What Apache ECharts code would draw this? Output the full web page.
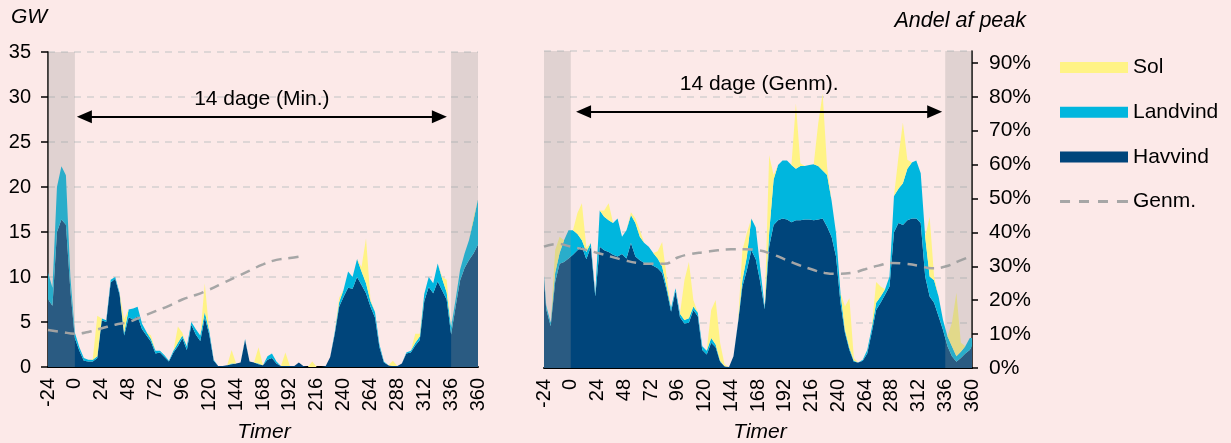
<!DOCTYPE html>
<html><head><meta charset="utf-8">
<script src="https://cdn.jsdelivr.net/npm/echarts@6/dist/echarts.min.js"></script>
<style>html,body{margin:0;padding:0;background:#FCE9E8}#c{width:1231px;height:443px}</style>
</head><body><div id="c"></div>
<script>
// ---------- DATA ----------
// Left panel (14 dage, Min.) – samples every 4 h, GW
const hoursL = [
  -24,-20,-16,-12,-8,-4,0,4,8,12,
  16,20,24,28,32,36,40,44,48,52,
  56,60,64,68,72,76,80,84,88,92,
  96,100,104,108,112,116,120,124,128,132,
  136,140,144,148,152,156,160,164,168,172,
  176,180,184,188,192,196,200,204,208,212,
  216,220,224,228,232,236,240,244,248,252,
  256,260,264,268,272,276,280,284,288,292,
  296,300,304,308,312,316,320,324,328,332,
  336,340,344,348,352,356,360];
const havL = [
  7.5,6.8,15.0,16.4,15.8,8.5,3.2,1.8,0.7,0.6,
  0.6,1.0,5.2,5.0,9.4,9.8,8.0,3.5,5.5,5.3,
  5.6,4.2,3.5,2.8,1.5,1.6,1.1,0.6,1.6,2.3,
  3.2,1.9,4.7,3.6,2.9,5.5,3.6,0.7,0.1,0.1,
  0.2,0.3,0.4,0.5,3.0,0.6,0.5,0.3,0.2,0.8,
  1.0,0.4,0.1,0.1,0.1,0.1,0.5,0.1,0,0,
  0,0,0.1,1.1,3.6,6.7,7.8,8.8,8.7,10.0,
  9.1,8.2,6.7,5.5,2.2,0.5,0.2,0.1,0.1,0.4,
  1.5,1.6,2.4,3.0,7.3,8.9,8.2,9.5,8.5,7.5,
  3.6,6.7,9.6,11.0,11.9,12.6,13.6];
const landL = [
  3.0,2.0,5.0,5.9,5.5,1.5,0.6,0.4,0.3,0.2,
  0.2,0.2,0.2,0.2,0.3,0.2,0.2,0.3,0.9,1.2,
  1.1,0.6,0.4,0.3,0.3,0.2,0.2,0.1,0.2,0.4,
  0.3,0.4,0.3,0.6,0.6,0.6,0.4,0.1,0,0,
  0,0.1,0,0,0.1,0,0,0.1,0,0.4,
  0.5,0.2,0,0,0,0,0,0,0,0,
  0,0,0,0,0.2,0.5,0.8,1.8,1.3,2.0,
  1.5,1.1,0.6,0.6,0.3,0.1,0,0,0,0,
  0.1,0.2,0.3,0.4,0.8,1.1,1.1,2.0,1.3,0.8,
  0.8,0.8,1.2,1.6,2.2,3.7,5.0];
const solL = [
  0,0,0,0,0,0,0,0,0,0,
  0.1,4.5,0,0,0,0,0,1.5,0,0,
  0,0,0,0.4,0,0,0,0,0,1.8,
  0.3,0,0,0,0,3.2,0,0,0,0,
  0,1.5,0,0,0,0,0,1.8,0,0,
  0,0,0,1.5,0,0,0,0,0,0.6,
  0,0,0,0,0,0.5,0,0,0,0,
  0.5,5.0,0.2,0,0,0,0,0.6,0,0,
  0,0,1.0,0.3,0,0,0,0,0.2,1.4,
  0,0,0,0,0,0.3,0.1];
const genmHoursL = [-24,-12,0,12,24,36,48,60,72,84,96,108,120,132,144,156,168,180,192,202];
const genmL = [4.1,3.9,3.7,3.9,4.3,4.7,5.0,5.6,6.2,6.8,7.5,8.0,8.6,9.3,10.0,10.7,11.4,11.9,12.1,12.3];

// Right panel (14 dage, Genm.) – GW
const hoursR = [
  -24,-22,-18,-14,-10,-6,-2,2,6,10,
  14,18,22,26,30,34,38,42,46,50,
  54,58,62,66,70,74,78,82,86,90,
  94,98,102,106,110,114,118,122,126,130,
  134,138,142,146,150,154,158,162,166,170,
  174,178,182,186,190,194,198,202,206,210,
  214,218,222,226,230,234,238,242,246,250,
  254,258,262,266,270,274,278,282,286,290,
  294,298,302,306,310,314,318,322,326,330,
  334,338,342,346,350,354,358,360];
const havR = [
  9.8,6.5,4.6,9.5,11.5,11.7,12.1,12.5,13.0,13.4,
  12.0,13.4,7.9,13.4,13.0,12.8,12.5,12.3,12.6,12.1,
  13.8,12.3,11.9,11.6,11.5,11.3,11.0,10.5,8.6,6.2,
  8.5,5.6,4.9,5.0,6.4,5.7,2.0,1.5,2.8,2.3,
  0.7,0.2,0.1,1.3,4.9,9.0,10.8,13.0,12.0,9.5,
  6.5,13.4,15.8,16.3,16.5,16.4,16.1,16.3,16.3,16.4,
  16.4,16.3,16.4,16.5,15.6,14.5,12.3,7.2,3.9,2.0,
  0.7,0.6,0.8,1.6,3.9,6.4,7.2,8.1,9.0,15.0,
  16.0,15.8,16.3,16.5,16.5,16.0,10.1,7.9,7.2,5.7,
  4.2,2.4,1.3,0.7,1.1,1.6,2.0,2.4];
const landR = [
  0.4,0.4,0.4,1.0,1.2,2.4,3.1,2.7,1.8,0.7,
  0.8,0.4,0.3,4.0,3.7,3.5,3.5,4.2,1.9,3.1,
  3.1,3.7,2.6,2.2,1.9,1.4,1.1,0.7,0.4,0.4,
  0.3,0.4,0.4,0.5,0.4,0.4,0.4,0.4,0.5,0.3,
  0.1,0,0,0,0.1,0.7,1.5,3.5,3.5,1.5,
  0.2,1.5,5.0,6.1,6.4,6.5,6.3,5.7,6.0,5.9,
  6.0,6.2,5.9,5.3,5.7,4.0,2.6,1.1,0.3,0.2,
  0.1,0,0.1,0.4,0.5,0.8,0.7,0.6,1.1,4.0,
  3.8,4.6,5.7,6.2,6.4,5.5,4.4,2.2,2.5,2.2,
  1.1,1.1,1.1,0.6,0.7,0.8,1.3,0.9];
const solR = [
  0,0,0,2.5,1.8,0,0,0,2.3,4.1,
  0.5,0,0,0,0.7,1.9,0,0,0,0,
  0.3,0.5,0.7,0,0,0,0.8,2.7,1.1,0,
  0,0,4.4,6.2,0.7,0,0,0,3.1,4.9,
  2.0,0.2,0,0,0,3.3,2.6,0,0,0,
  0,8.6,0.5,0,0,0,0,7.2,0.3,0,
  0,0,4.7,8.5,0.9,0,0,0,2.6,5.5,
  0.3,0,0,0,0,2.3,1.1,0,0,0,
  3.5,6.7,1.0,0,0,0,0,6.6,0.4,0,
  0,0,2.6,7.0,1.0,0,0,0];
const genmHoursR = [-24,-12,0,12,24,36,48,60,72,84,96,108,120,132,144,156,168,180,192,204,216,228,240,252,264,276,288,300,312,324,336,348,360];
const genmR = [13.4,13.7,13.4,13.1,12.7,12.3,11.9,11.6,11.5,11.5,12.2,12.6,12.8,13.0,13.1,13.1,13.0,12.6,12.0,11.4,10.9,10.5,10.4,10.5,10.9,11.3,11.6,11.5,11.3,11.0,11.2,11.8,12.4];

// Annotations
const shadeBefore = [-24, 0], shadeAfter = [336, 360];
const arrowL = [8.5, 325.5], arrowR = [11.5, 326.5];   // arrow centre points (hours)
const arrowLevelL = 27.8, arrowLevelR = 28.3;
const labelL = '14 dage (Min.)', labelR = '14 dage (Genm).';
const peakGW = 37.43; // 35 GW (axis top) ≈ 93.5 % of peak

// ---------- STYLE ----------
const FONT = '"Liberation Sans", Arial, Helvetica, sans-serif';
const C_SOL = '#FFF385', C_LAND = '#00B6DE', C_HAV = '#00457B', C_GENM = '#A6A6A6';
const SHADE = 'rgba(150,150,150,0.28)';
const GRIDLINE = {show:true, lineStyle:{color:'#D3D0D0', width:1.5, type:[7,6]}};
const DASH_ICON = 'path://M0,0h0.01v0.01h-0.01z M0,11h0.01v0.01h-0.01z ' +
  'M0,4h10v3h-10z M19,4h10v3h-10z M38,4h10v3h-10z M57,4h11v3h-11z';

// value first, hour second -> the stacked dimension is the value (y), not the hour (x)
function pairsVH(xs, ys){ return xs.map((x,i)=>[ys[i], x]); }

function areaSeries(name, color, xs, ys, idx, stack){
  return {name, type:'line', xAxisIndex:idx, yAxisIndex:idx===0?0:1, stack, stackStrategy:'all',
    dimensions:['v','h'], encode:{x:'h', y:'v'},
    data:pairsVH(xs, ys), symbol:'none', showSymbol:false,
    lineStyle:{width:0, color}, itemStyle:{color},
    areaStyle:{color, opacity:1}, emphasis:{disabled:true}, z:2};
}
function genmSeries(xs, ys, idx){
  return {name:'Genm.', type:'line', xAxisIndex:idx, yAxisIndex:idx===0?0:1,
    dimensions:['v','h'], encode:{x:'h', y:'v'},
    data:pairsVH(xs, ys), smooth:true, symbol:'none', showSymbol:false,
    lineStyle:{color:C_GENM, width:2.5, type:[10,7]}, itemStyle:{color:C_GENM},
    emphasis:{disabled:true}, z:3};
}
function overlaySeries(idx, ends, level, text, dist){
  return {type:'line', xAxisIndex:idx, yAxisIndex:idx===0?0:1, data:[], z:5, silent:true,
    markArea:{silent:true, z:10, itemStyle:{color:SHADE}, data:[
      [{xAxis:shadeBefore[0]},{xAxis:shadeBefore[1]}],
      [{xAxis:shadeAfter[0]},{xAxis:shadeAfter[1]}]]},
    markLine:{silent:true, z:11, symbol:['triangle','triangle'], symbolSize:[13,15],
      lineStyle:{color:'#000', width:2, type:'solid'},
      label:{show:true, formatter:text, position:'insideMiddleTop', distance:dist,
        fontFamily:FONT, fontSize:21, color:'#000'},
      data:[[{coord:[ends[0], level]},{coord:[ends[1], level]}]]}};
}
function xAxis(idx){
  return {type:'value', gridIndex:idx, min:-24, max:360, interval:24,
    axisLine:{show:true, onZero:false, lineStyle:{color:'#000', width:2}},
    axisTick:{show:false}, splitLine:{show:false},
    axisLabel:{rotate:90, fontFamily:FONT, fontSize:20, color:'#000', margin:11}};
}

const option = {
  backgroundColor:'#FCE9E8', animation:false,
  grid:[{left:48, top:52, width:430, height:315},
        {left:544, top:51, width:428, height:317}],
  xAxis:[xAxis(0), xAxis(1)],
  yAxis:[
    {type:'value', gridIndex:0, min:0, max:35, interval:5,
     axisLine:{show:true, onZero:false, lineStyle:{color:'#000', width:1.5}},
     axisTick:{show:true, length:7, lineStyle:{color:'#000', width:1.5}},
     axisLabel:{fontFamily:FONT, fontSize:20, color:'#000', margin:17},
     splitLine:GRIDLINE},
    {type:'value', gridIndex:1, min:0, max:35, interval:5,
     axisLine:{show:false, onZero:false}, axisTick:{show:false}, axisLabel:{show:false},
     splitLine:GRIDLINE},
    {type:'value', gridIndex:1, position:'right', min:0, max:35/peakGW*100, interval:10,
     axisLine:{show:true, onZero:false, lineStyle:{color:'#000', width:1.5}},
     axisTick:{show:true, length:6, lineStyle:{color:'#000', width:1.5}},
     axisLabel:{fontFamily:FONT, fontSize:21, color:'#000', margin:17, showMaxLabel:false,
       formatter:v=>Math.round(v)+'%'},
     splitLine:{show:false}}
  ],
  legend:{orient:'vertical', left:1060, top:57, padding:0, itemWidth:68, itemHeight:11, itemGap:23.7,
    textStyle:{fontFamily:FONT, fontSize:21, color:'#000'},
    data:[{name:'Sol', icon:'rect'},{name:'Landvind', icon:'rect'},{name:'Havvind', icon:'rect'},
          {name:'Genm.', icon:DASH_ICON}]},
  graphic:[
    {type:'text', left:11, top:7, style:{text:'GW', font:'italic 21px '+FONT, fill:'#000'}},
    {type:'text', right:1231-1026, top:10, style:{text:'Andel af peak', font:'italic 21.5px '+FONT, fill:'#000'}},
    {type:'text', x:264, y:432, style:{text:'Timer', font:'italic 21px '+FONT, fill:'#000', align:'center', verticalAlign:'middle'}},
    {type:'text', x:760, y:432, style:{text:'Timer', font:'italic 21px '+FONT, fill:'#000', align:'center', verticalAlign:'middle'}}
  ],
  series:[
    areaSeries('Havvind', C_HAV, hoursL, havL, 0, 'L'),
    areaSeries('Landvind', C_LAND, hoursL, landL, 0, 'L'),
    areaSeries('Sol', C_SOL, hoursL, solL, 0, 'L'),
    genmSeries(genmHoursL, genmL, 0),
    overlaySeries(0, arrowL, arrowLevelL, labelL, 7),
    areaSeries('Havvind', C_HAV, hoursR, havR, 1, 'R'),
    areaSeries('Landvind', C_LAND, hoursR, landR, 1, 'R'),
    areaSeries('Sol', C_SOL, hoursR, solR, 1, 'R'),
    genmSeries(genmHoursR, genmR, 1),
    overlaySeries(1, arrowR, arrowLevelR, labelR, 17)
  ]
};
const chart = echarts.init(document.getElementById('c'));
chart.setOption(option);
</script></body></html>
